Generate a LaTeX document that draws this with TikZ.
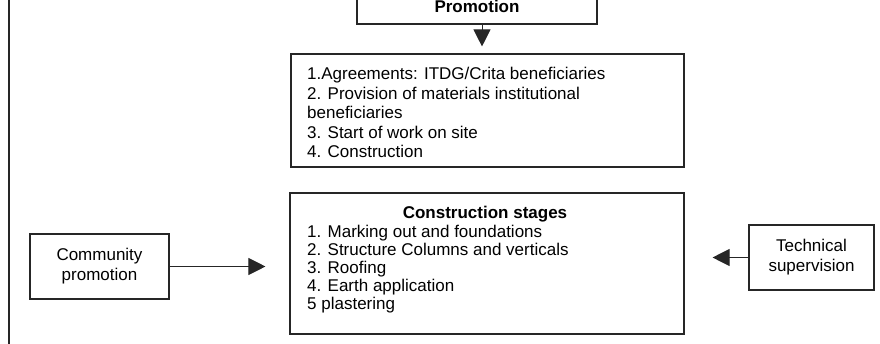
\documentclass[tikz,border=0pt]{standalone}
\usepackage{fontspec}
\setmainfont{Liberation Sans}
\usetikzlibrary{arrows.meta}
\begin{document}
\begin{tikzpicture}[x=1pt,y=-1pt,
  box/.style={draw=black!85, line width=1.1pt, inner sep=0pt},
  lbl/.style={font=\fontsize{17}{20}\selectfont, align=center},
  lst/.style={font=\fontsize{17}{19.5}\selectfont, align=left, inner sep=0pt},
  arr/.style={draw=black!85, line width=1pt, -{Triangle[length=17pt,width=17pt]}}]
\useasboundingbox (0,0) rectangle (880,344);
\clip (0,0) rectangle (880,344);
% left margin rule
\draw[line width=1.1pt, black!85] (9,-2) -- (9,346);
% boxes
\node[box, minimum width=240pt, minimum height=36pt,
      font=\bfseries\fontsize{17}{20}\selectfont] (promo) at (477,6) {Promotion};
\node[box, minimum width=393pt, minimum height=113pt] (agree) at (487.5,110.5) {};
\node[box, minimum width=394pt, minimum height=141pt] (stages) at (487,263.5) {};
\node[box, lbl, minimum width=139pt, minimum height=65pt] (comm) at (99.5,266.5) {Community\\promotion};
\node[box, lbl, minimum width=125pt, minimum height=65pt] (tech) at (811.5,257.5) {Technical\\supervision};
% box texts (base anchor = baseline of the last line)
\node[lst, anchor=base west] (agreetxt) at (307,158) {1.Agreements: ITDG/Crita beneficiaries\\
2. Provision of materials institutional\\
beneficiaries\\
3. Start of work on site\\
4. Construction};
\node[inner sep=0pt, anchor=base, font=\bfseries\fontsize{17}{20}\selectfont] (stagestitle) at (485,219) {Construction stages};
\node[lst, font=\fontsize{17}{18.2}\selectfont, anchor=base west] (stagestxt) at (307,310) {1. Marking out and foundations\\
2. Structure Columns and verticals\\
3. Roofing\\
4. Earth application\\
5 plastering};
% connectors
\draw[arr] ([xshift=5pt]promo.south) -- ([xshift=5pt,yshift=7pt]promo.south |- agree.north);
\draw[arr] (comm.east) -- ([xshift=-24pt]stages.west |- comm.east);
\draw[arr] (tech.west) -- ([xshift=28pt]stages.east |- tech.west);
\end{tikzpicture}
\end{document}
